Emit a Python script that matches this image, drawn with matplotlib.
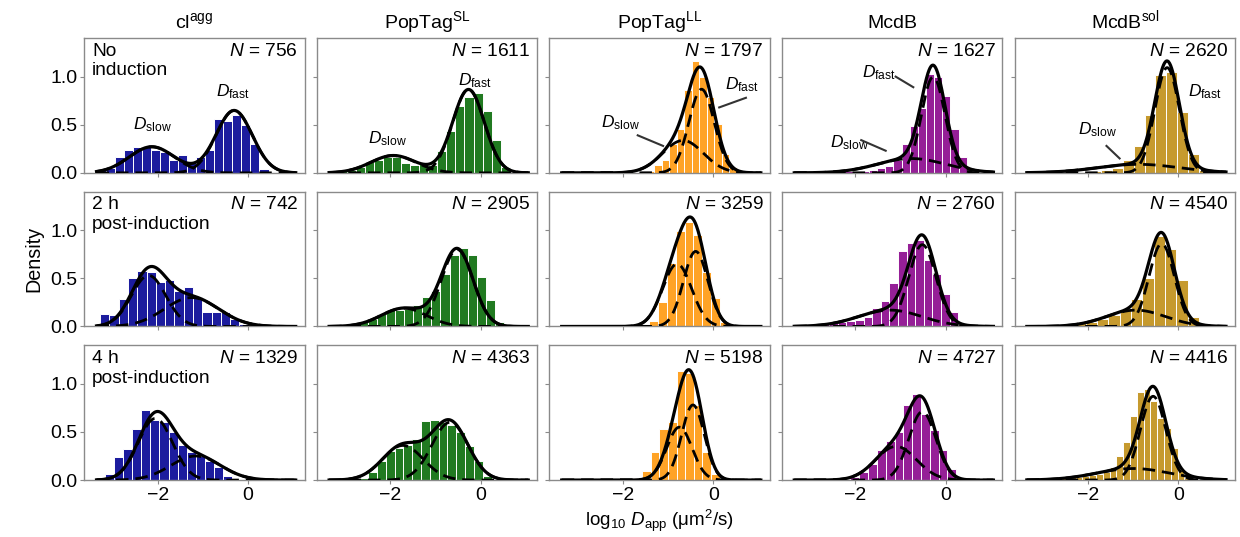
import numpy as np
import matplotlib
matplotlib.use('Agg')
import matplotlib.pyplot as plt

plt.rcParams['font.family'] = ['Liberation Sans', 'DejaVu Sans']
plt.rcParams['mathtext.fontset'] = 'custom'
plt.rcParams['mathtext.rm'] = 'Liberation Sans'
plt.rcParams['mathtext.it'] = 'Liberation Sans:italic'
plt.rcParams['mathtext.bf'] = 'Liberation Sans:bold'

# ---------------- data ----------------
proteins = [r"cl$^{\mathrm{agg}}$", r"PopTag$^{\mathrm{SL}}$", r"PopTag$^{\mathrm{LL}}$",
            "McdB", r"McdB$^{\mathrm{sol}}$"]
conditions = ["No\ninduction", "2 h\npost-induction", "4 h\npost-induction"]
bar_colors = ["#1c1c9e", "#217a21", "#ffa326", "#951f97", "#c69a2e"]

n_counts = [[756, 1611, 1797, 1627, 2620],
            [742, 2905, 3259, 2760, 4540],
            [1329, 4363, 5198, 4727, 4416]]

# histogram: first bin edge, bin width, bar heights (density)
hist_start = [[-3.35, -3.36, -1.64, -2.60, -2.43],
              [-3.27, -3.29, -1.61, -3.15, -2.80],
              [-3.36, -3.27, -1.76, -2.50, -2.72]]
hist_width = [[0.20, 0.20, 0.166, 0.18, 0.24],
              [0.205, 0.20, 0.195, 0.19, 0.25],
              [0.20, 0.195, 0.19, 0.195, 0.15]]

heights_no_induction = [
    [0.04, 0.05, 0.17, 0.24, 0.27, 0.27, 0.24, 0.22, 0.13, 0.19, 0.11, 0.17, 0.24, 0.56, 0.54, 0.60, 0.50, 0.30, 0.04],
    [0.01, 0.02, 0.03, 0.06, 0.11, 0.13, 0.16, 0.17, 0.10, 0.08, 0.11, 0.08, 0.23, 0.44, 0.69, 0.79, 0.83, 0.64, 0.34, 0.06],
    [0.01, 0.02, 0.08, 0.13, 0.30, 0.46, 0.86, 1.16, 1.00, 0.79, 0.51, 0.20, 0.06],
    [0.01, 0.01, 0.015, 0.02, 0.02, 0.03, 0.05, 0.07, 0.13, 0.30, 0.49, 0.67, 1.03, 1.00, 0.80, 0.46, 0.16],
    [0.01, 0.01, 0.02, 0.03, 0.05, 0.13, 0.28, 0.60, 1.02, 1.05, 0.63, 0.20, 0.03],
]
heights_2h = [
    [0.13, 0.12, 0.29, 0.50, 0.58, 0.57, 0.46, 0.48, 0.37, 0.41, 0.31, 0.15, 0.15, 0.15, 0.08, 0.03],
    [0.01, 0.015, 0.03, 0.045, 0.08, 0.13, 0.17, 0.17, 0.18, 0.22, 0.31, 0.37, 0.55, 0.74, 0.82, 0.74, 0.51, 0.27, 0.05],
    [0.02, 0.06, 0.25, 0.66, 0.99, 1.09, 0.95, 0.57, 0.30, 0.05],
    [0.01, 0.02, 0.03, 0.035, 0.045, 0.06, 0.07, 0.10, 0.19, 0.26, 0.45, 0.78, 0.87, 0.90, 0.69, 0.55, 0.34, 0.15],
    [0.01, 0.02, 0.035, 0.045, 0.08, 0.115, 0.17, 0.29, 0.50, 0.94, 0.80, 0.48, 0.10],
]
heights_4h = [
    [0.01, 0.06, 0.235, 0.32, 0.53, 0.73, 0.62, 0.60, 0.50, 0.36, 0.29, 0.25, 0.20, 0.14, 0.04],
    [0.01, 0.015, 0.02, 0.025, 0.08, 0.20, 0.30, 0.33, 0.36, 0.43, 0.61, 0.62, 0.60, 0.57, 0.50, 0.35, 0.20, 0.04],
    [0.025, 0.095, 0.29, 0.53, 0.60, 1.13, 1.11, 0.78, 0.29, 0.06, 0.025],
    [0.01, 0.015, 0.03, 0.08, 0.17, 0.31, 0.41, 0.50, 0.78, 0.89, 0.69, 0.52, 0.31, 0.12],
    [0.02, 0.025, 0.03, 0.035, 0.045, 0.05, 0.06, 0.08, 0.14, 0.25, 0.40, 0.67, 0.91, 0.95, 0.82, 0.65, 0.54, 0.33, 0.10, 0.02],
]
heights_all = [heights_no_induction, heights_2h, heights_4h]

# two-component Gaussian fits: (weight, mean, sigma) for slow and fast populations
fit_no_induction = [
    [(0.34, -2.13, 0.50), (0.65, -0.31, 0.40)],
    [(0.226, -1.93, 0.50), (0.76, -0.27, 0.35)],
    [(0.38, -0.67, 0.45), (0.61, -0.26, 0.28)],
    [(0.28, -0.76, 0.75), (0.65, -0.28, 0.26)],
    [(0.20, -0.88, 0.90), (0.74, -0.25, 0.27)],
]
fit_2h = [
    [(0.505, -2.20, 0.38), (0.451, -1.25, 0.60)],
    [(0.238, -1.70, 0.50), (0.702, -0.52, 0.35)],
    [(0.521, -0.80, 0.32), (0.528, -0.39, 0.27)],
    [(0.298, -1.23, 0.70), (0.639, -0.52, 0.30)],
    [(0.277, -0.94, 0.65), (0.604, -0.37, 0.28)],
]
fit_4h = [
    [(0.61, -2.05, 0.38), (0.345, -1.16, 0.55)],
    [(0.406, -1.72, 0.45), (0.602, -0.68, 0.40)],
    [(0.386, -0.75, 0.28), (0.489, -0.45, 0.25)],
    [(0.395, -1.10, 0.45), (0.534, -0.52, 0.30)],
    [(0.241, -1.00, 0.80), (0.611, -0.56, 0.28)],
]
fits_all = [fit_no_induction, fit_2h, fit_4h]
fit_range = (-3.35, 1.05)

# D_slow / D_fast labels in the top row: (label, text x, text y, line start, line end)
d_labels = {
    0: [("slow", -2.55, 0.50, None, None), ("fast", -0.72, 0.84, None, None)],
    1: [("slow", -2.50, 0.36, None, None), ("fast", -0.50, 0.96, None, None)],
    2: [("slow", -2.48, 0.52, (-1.67, 0.39), (-1.11, 0.28)),
        ("fast", 0.26, 0.92, (0.72, 0.78), (0.13, 0.68))],
    3: [("slow", -2.55, 0.31, (-1.87, 0.34), (-1.33, 0.23)),
        ("fast", -1.86, 1.04, (-1.11, 1.00), (-0.72, 0.89))],
    4: [("slow", -2.22, 0.45, (-1.59, 0.28), (-1.30, 0.15)),
        ("fast", 0.20, 0.84, None, None)],
}


def gauss(x, w, mu, s):
    return w / (s * np.sqrt(2 * np.pi)) * np.exp(-0.5 * ((x - mu) / s) ** 2)


fig, axes = plt.subplots(3, 5, figsize=(12.4, 5.37), dpi=100)
fig.subplots_adjust(left=0.068, right=0.996, top=0.929, bottom=0.106,
                    wspace=0.055, hspace=0.14)

xs = np.linspace(fit_range[0], fit_range[1], 400)
spine_col = "#8a8a8a"

for r in range(3):
    for c in range(5):
        ax = axes[r, c]
        h = np.array(heights_all[r][c])
        w = hist_width[r][c]
        edges = hist_start[r][c] + w * np.arange(len(h))
        ax.bar(edges, h, width=w, align='edge', color=bar_colors[c],
               edgecolor='white', linewidth=0.7, zorder=1)
        comps = fits_all[r][c]
        total = np.zeros_like(xs)
        for (wt, mu, s) in comps:
            y = gauss(xs, wt, mu, s)
            total += y
            ax.plot(xs, y, color='black', lw=2.0, ls=(0, (4.5, 2.5)), zorder=3)
        ax.plot(xs, total, color='black', lw=2.3, zorder=4)

        ax.set_xlim(-3.62, 1.25)
        ax.set_ylim(0, 1.4)
        ax.set_xticks([-2, 0])
        ax.set_yticks([0.0, 0.5, 1.0])
        ax.tick_params(length=3, width=0.8, color=spine_col, labelsize=14,
                       pad=2)
        if c != 0:
            ax.set_yticklabels([])
        else:
            ax.set_yticklabels(["0.0", "0.5", "1.0"])
        if r != 2:
            ax.set_xticklabels([])
        else:
            ax.set_xticklabels(["\u22122", "0"])
        for sp in ax.spines.values():
            sp.set_color(spine_col)
            sp.set_linewidth(1.0)

        ax.text(0.97, 0.965, r"$N$ = %d" % n_counts[r][c], transform=ax.transAxes,
                ha='right', va='top', fontsize=13.8)
        if c == 0:
            ax.text(0.035, 0.965, conditions[r], transform=ax.transAxes,
                    ha='left', va='top', fontsize=13.8, linespacing=1.2)
        if r == 0:
            ax.set_title(proteins[c], fontsize=14, pad=7)
            for (lab, tx, ty, p0, p1) in d_labels[c]:
                ax.text(tx, ty, r"$D_{\mathrm{%s}}$" % lab, fontsize=12.5,
                        ha='left', va='center', zorder=5)
                if p0 is not None:
                    ax.plot([p0[0], p1[0]], [p0[1], p1[1]], color='#333333',
                            lw=1.5, zorder=5)

axes[1, 0].set_ylabel("Density", fontsize=14.2, labelpad=5)
axes[2, 2].set_xlabel(r"log$_{10}$ $D_{\mathrm{app}}$ (μm$^{2}$/s)", fontsize=13.5,
                      labelpad=3)

fig.savefig("out.png", dpi=100)
